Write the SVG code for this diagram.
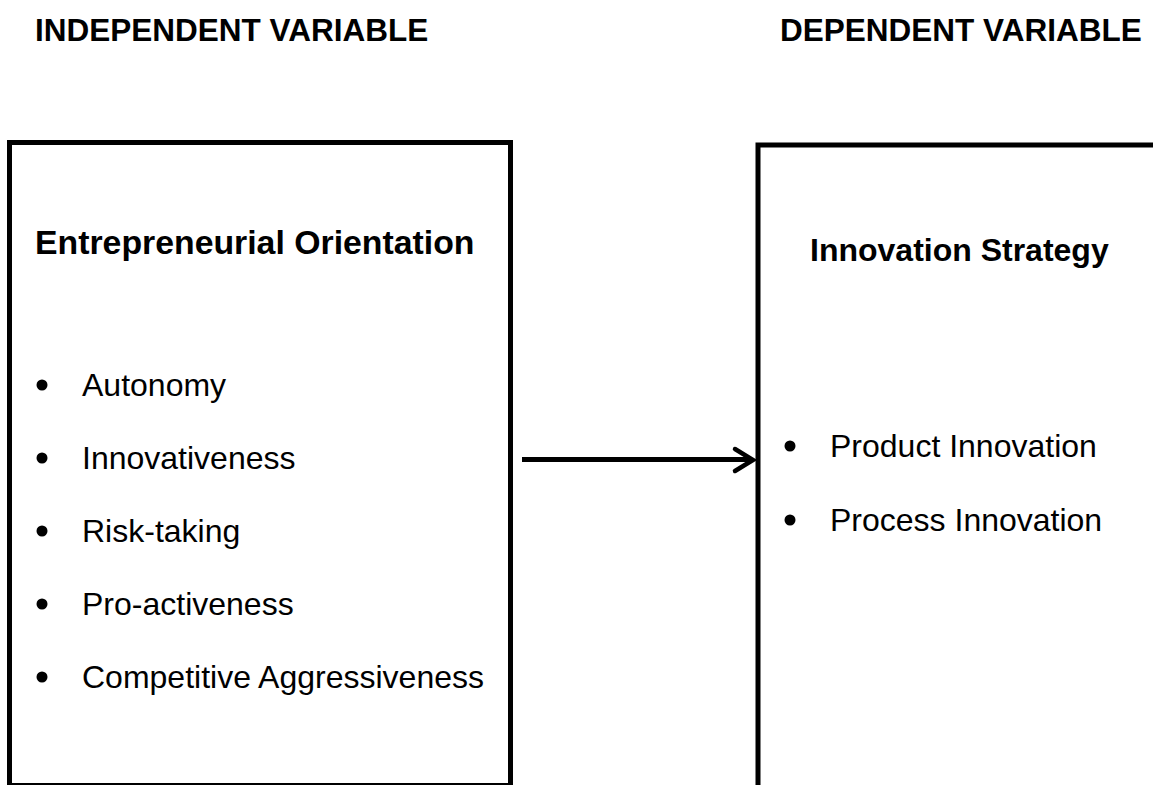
<svg xmlns="http://www.w3.org/2000/svg" width="1153" height="785" viewBox="0 0 1153 785">
  <style>
    .heading { font-family: "Liberation Sans", Arial, sans-serif; font-weight: bold; font-size: 31.5px; fill: #000; }
    .title { font-family: "Liberation Sans", Arial, sans-serif; font-weight: bold; font-size: 32px; fill: #000; }
    .title-wide { font-size: 33.8px; }
    .item { font-family: "Liberation Sans", Arial, sans-serif; font-size: 32px; fill: #000; }
    .box { fill: #fff; stroke: #000; stroke-width: 5; }
    .dot { fill: #000; }
    .link { stroke: #000; stroke-width: 5; fill: none; }
    .head { fill: none; stroke: #000; stroke-width: 4.5; stroke-linecap: round; }
  </style>
  <rect width="1153" height="785" fill="#fff"/>

  <text class="heading" x="35" y="41">INDEPENDENT VARIABLE</text>
  <text class="heading" x="780" y="41">DEPENDENT VARIABLE</text>

  <g id="node-eo">
    <rect class="box" x="9.5" y="142.5" width="501" height="643"/>
    <text class="title title-wide" x="35" y="254">Entrepreneurial Orientation</text>
    <circle class="dot" cx="42" cy="385" r="5.5"/>
    <text class="item" x="82" y="396">Autonomy</text>
    <circle class="dot" cx="42" cy="458" r="5.5"/>
    <text class="item" x="82" y="469">Innovativeness</text>
    <circle class="dot" cx="42" cy="531" r="5.5"/>
    <text class="item" x="82" y="542">Risk-taking</text>
    <circle class="dot" cx="42" cy="604" r="5.5"/>
    <text class="item" x="82" y="615">Pro-activeness</text>
    <circle class="dot" cx="42" cy="677" r="5.5"/>
    <text class="item" x="82" y="688">Competitive Aggressiveness</text>
  </g>

  <g id="node-is">
    <rect class="box" x="758" y="145" width="420" height="660"/>
    <text class="title" x="810" y="261">Innovation Strategy</text>
    <circle class="dot" cx="790" cy="446" r="5.5"/>
    <text class="item" x="830" y="457">Product Innovation</text>
    <circle class="dot" cx="790" cy="520" r="5.5"/>
    <text class="item" x="830" y="531">Process Innovation</text>
  </g>

  <g id="connectors">
    <line class="link" x1="522" y1="459.5" x2="752" y2="459.5"/>
    <path class="head" d="M735,449 L753,460 L735,471"/>
  </g>
</svg>
